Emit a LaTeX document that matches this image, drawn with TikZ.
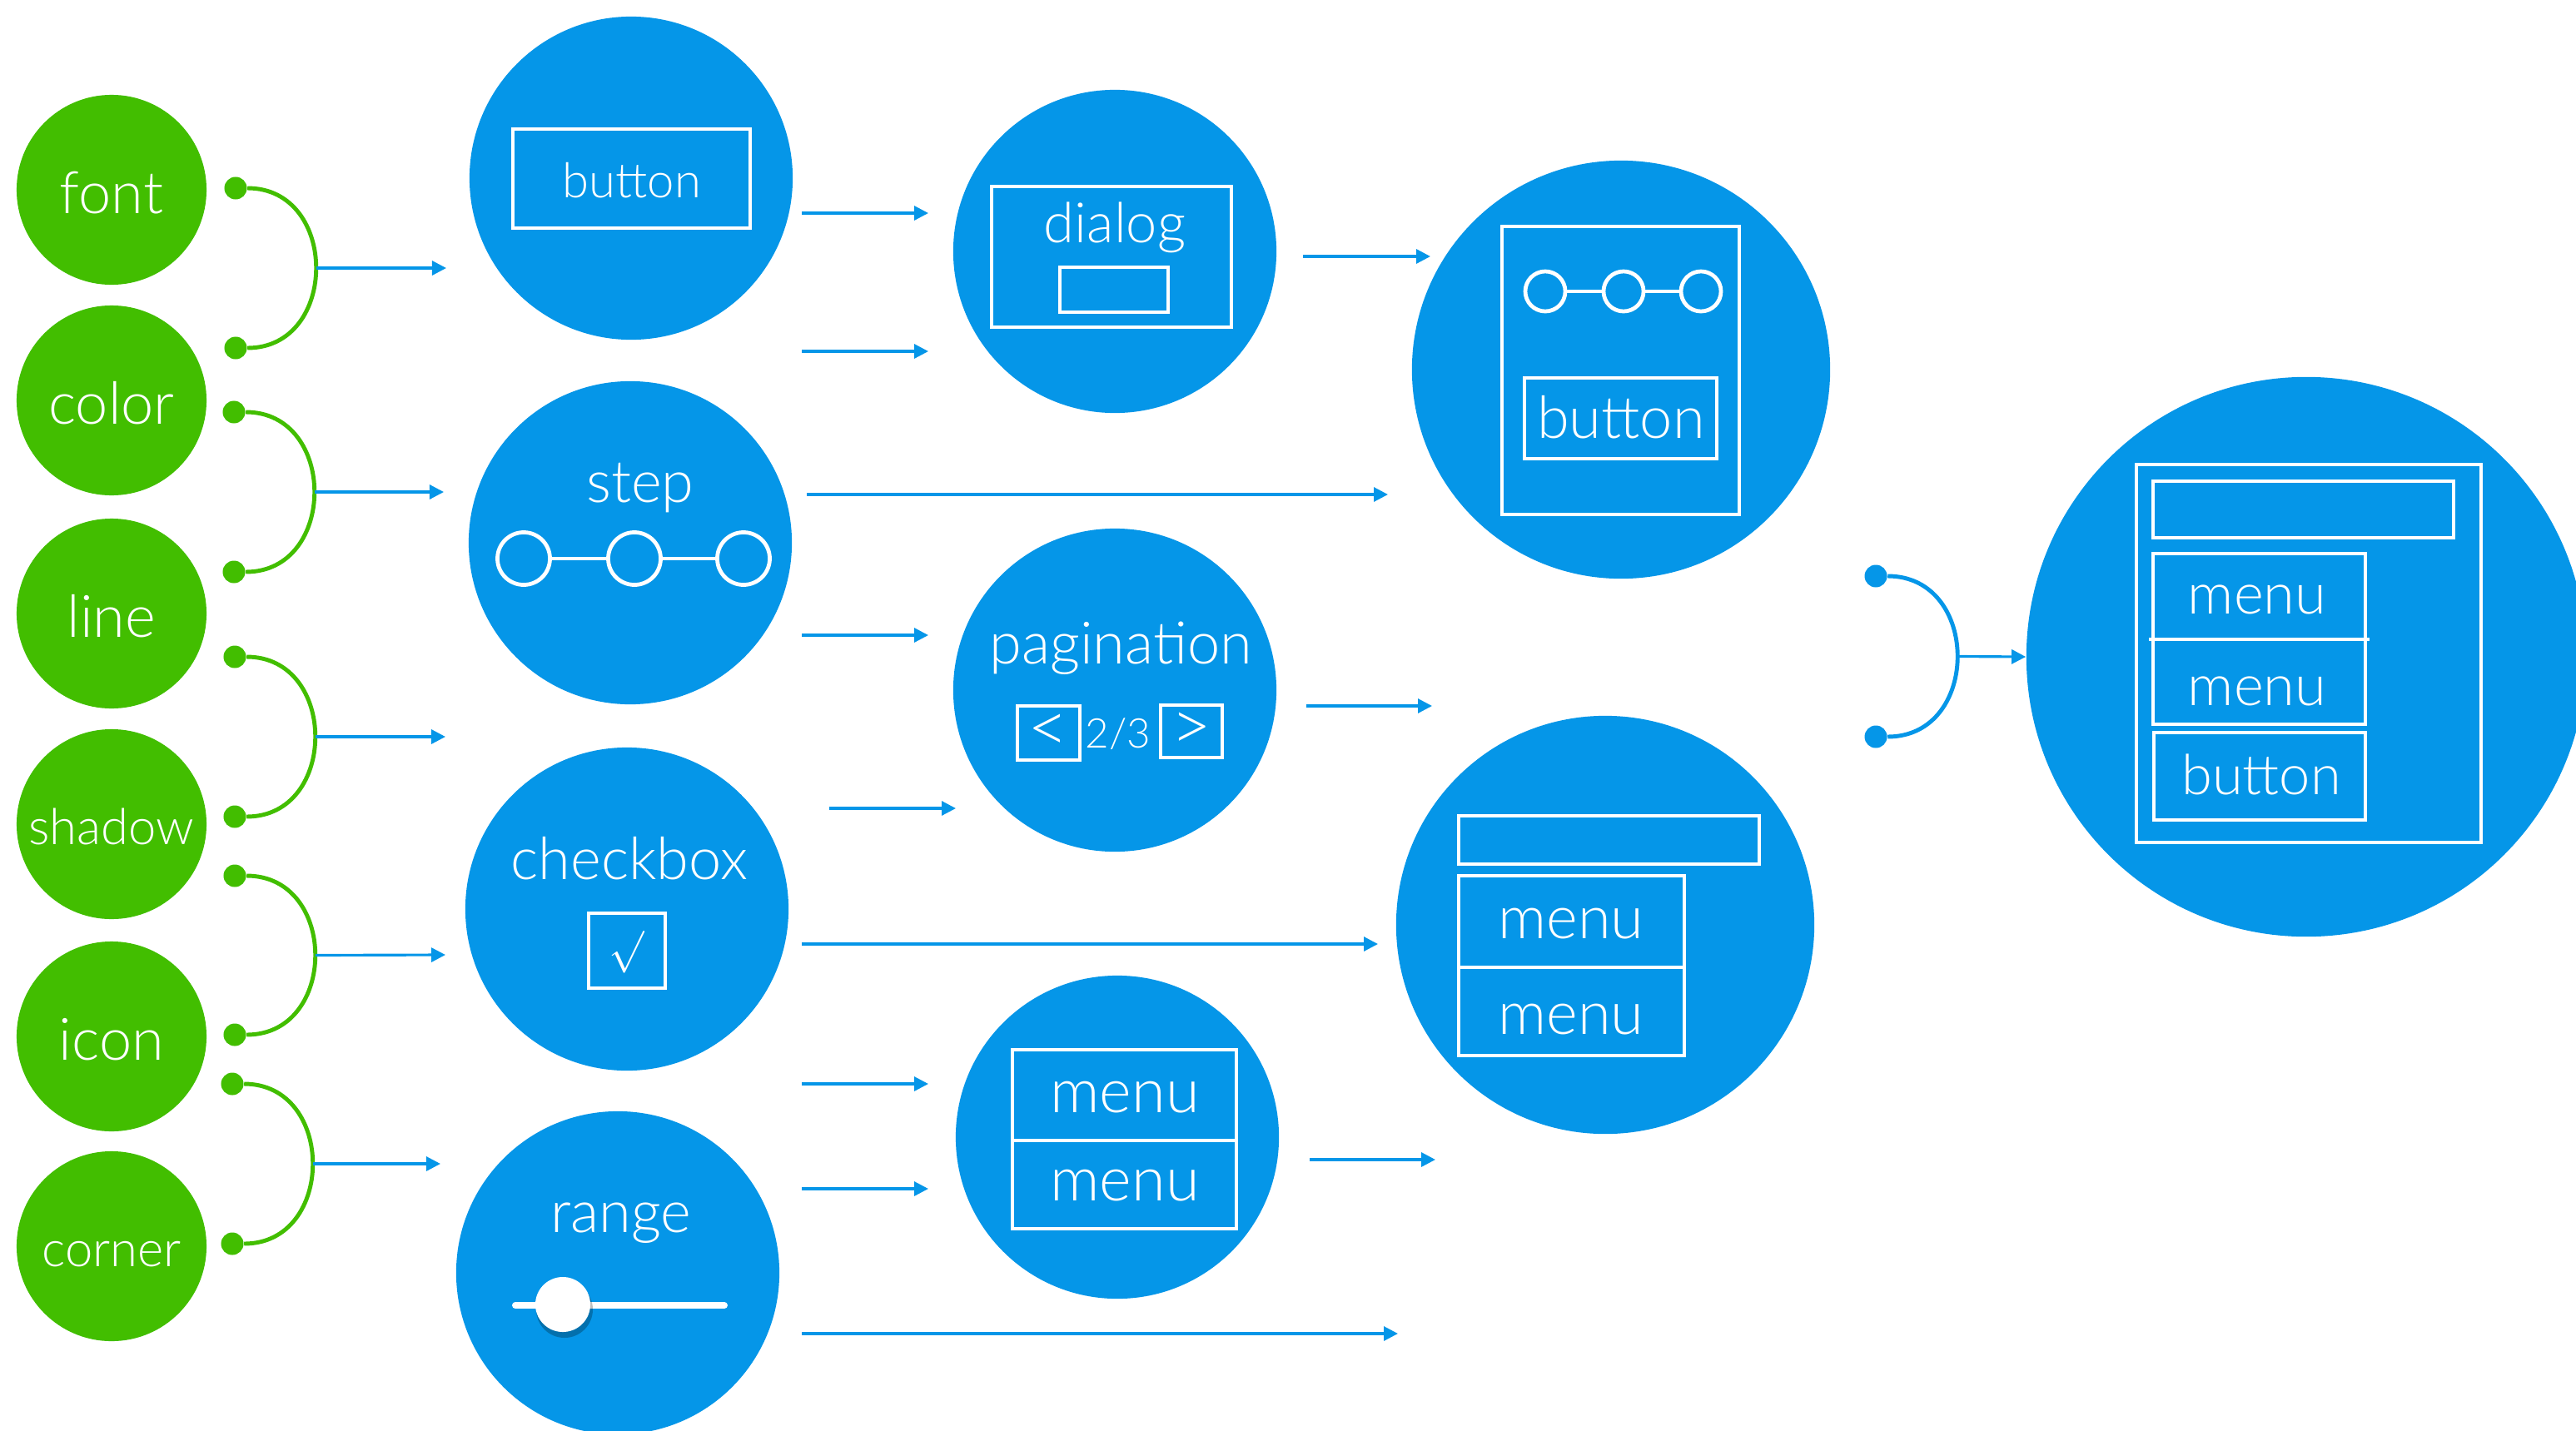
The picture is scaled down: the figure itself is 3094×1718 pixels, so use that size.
\documentclass[tikz,border=0pt]{standalone}
\usepackage{fontspec}
\IfFontExistsTF{Lato Light}{\setmainfont{Lato Light}}{%
  \IfFontExistsTF{Fira Sans Light}{\setmainfont{Fira Sans Light}}{\setmainfont{TeX Gyre Heros}}}
\usetikzlibrary{arrows.meta}
\definecolor{blu}{RGB}{5,150,232}
\definecolor{grn}{RGB}{66,190,0}
\newcommand\fsz[1]{\fontsize{#1}{#1}\selectfont}

\begin{document}
\begin{tikzpicture}[x=0.01cm,y=-0.01cm,
  gbub/.style={circle,fill=grn,inner sep=0pt,minimum size=2.28cm,text=white,
    font=\fsz{20pt},text height=0.56cm,text depth=0pt},
  bbub/.style={circle,fill=blu,inner sep=0pt},
  lbl/.style={text=white,anchor=base,inner sep=0pt,font=\fsz{20pt}},
  wline/.style={draw=white,line width=1.35pt},
  ring/.style={circle,draw=white,line width=1.35pt,inner sep=0pt},
  gdot/.style={circle,fill=grn,inner sep=0pt,minimum size=0.27cm},
  bdot/.style={circle,fill=blu,inner sep=0pt,minimum size=0.27cm},
  gjoin/.style={draw=grn,line width=1.4pt},
  bjoin/.style={draw=blu,line width=1.4pt},
  arr/.style={draw=blu,line width=0.9pt,-{Triangle[length=0.17cm,width=0.17cm]}}]

\useasboundingbox (0,0) rectangle (3094,1718);
\clip (0,0) rectangle (3094,1718);

% base properties
\node[gbub] (font) at (134,228) {font};
\node[gbub] (color) at (134,481) {color};
\node[gbub] (line) at (134,737) {line};
\node[gbub,font=\fsz{17pt},text height=0.48cm] (shadow) at (134,990) {shadow};
\node[gbub] (icon) at (134,1245) {icon};
\node[gbub,font=\fsz{17pt},text height=0.48cm] (corner) at (134,1497) {corner};

% green joins
\node[gdot] (g1a) at (283,226) {};
\node[gdot] (g1b) at (283,418) {};
\node[gdot] (g2a) at (281,495) {};
\node[gdot] (g2b) at (281,687) {};
\node[gdot] (g3a) at (282,789) {};
\node[gdot] (g3b) at (282,981) {};
\node[gdot] (g4a) at (282,1052) {};
\node[gdot] (g4b) at (282,1243) {};
\node[gdot] (g5a) at (279,1302) {};
\node[gdot] (g5b) at (279,1494) {};
\draw[gjoin] (g1a) to[out=0,in=0,distance=1.1cm] coordinate[pos=0.5] (j1) (g1b);
\draw[gjoin] (g2a) to[out=0,in=0,distance=1.1cm] coordinate[pos=0.5] (j2) (g2b);
\draw[gjoin] (g3a) to[out=0,in=0,distance=1.1cm] coordinate[pos=0.5] (j3) (g3b);
\draw[gjoin] (g4a) to[out=0,in=0,distance=1.1cm] coordinate[pos=0.5] (j4) (g4b);
\draw[gjoin] (g5a) to[out=0,in=0,distance=1.1cm] coordinate[pos=0.5] (j5) (g5b);
\coordinate (t1) at (536,322);
\coordinate (t2) at (533,591);
\coordinate (t3) at (535,885);
\coordinate (t4) at (535,1147);
\coordinate (t5) at (529,1398);
\draw[arr] (j1) -- (t1);
\draw[arr] (j2) -- (t2);
\draw[arr] (j3) -- (t3);
\draw[arr] (j4) -- (t4);
\draw[arr] (j5) -- (t5);

% components
\node[bbub,minimum size=3.88cm] (button) at (758,214) {};
\node[bbub,minimum size=3.88cm] (step) at (757,652) {};
\node[bbub,minimum size=3.88cm] (checkbox) at (753,1092) {};
\node[bbub,minimum size=3.88cm] (range) at (742,1529) {};

\draw[wline] (616,155) rectangle (901,274);
\node[lbl,font=\fsz{16.5pt}] (buttontxt) at (759,237) {button};

\node[lbl] (steptxt) at (769,603) {step};
\node[ring,minimum size=0.63cm] (st1) at (629,671) {};
\node[ring,minimum size=0.63cm] (st2) at (762,671) {};
\node[ring,minimum size=0.63cm] (st3) at (893,671) {};
\draw[wline] (st1) -- (st2);
\draw[wline] (st2) -- (st3);

\node[lbl] (checkboxtxt) at (756,1056) {checkbox};
\draw[wline] (707,1097) rectangle (799,1187);
\node[text=white,inner sep=0pt,font=\fsz{15pt}] (tick) at (753,1144) {$\surd$};

\node[lbl] (rangetxt) at (746,1480) {range};
\draw[white,line width=0.08cm,line cap=round] (619,1568) -- (870,1568);
\fill[black,opacity=0.25] (678,1573) circle[radius=34];
\node[circle,fill=white,inner sep=0pt,minimum size=0.66cm] (knob) at (676,1567) {};

% composites
\node[bbub,minimum size=3.88cm] (dialog) at (1339,302) {};
\node[bbub,minimum size=3.88cm] (pagination) at (1339,829) {};
\node[bbub,minimum size=3.88cm] (menu) at (1342,1366) {};

\draw[wline] (1191,224) rectangle (1479,393);
\node[lbl,font=\fsz{19pt}] (dialogtxt) at (1339,291) {dialog};
\draw[wline] (1273,321) rectangle (1403,375);

\node[lbl] (paginationtxt) at (1346,797) {pagination};
\draw[wline] (1222,848) rectangle (1297,913);
\draw[wline] (1394,847) rectangle (1468,910);
\node[text=white,inner sep=0pt,font=\fsz{24pt}] (prev) at (1259,881) {<};
\node[lbl,font=\fsz{14pt}] (pagenum) at (1343,898) {2/3};
\node[text=white,inner sep=0pt,font=\fsz{24pt}] (next) at (1431,879) {>};

\draw[wline] (1216,1261) rectangle (1485,1476);
\draw[wline] (1216,1370) -- (1485,1370);
\node[lbl,font=\fsz{21pt}] (menutxt1) at (1351,1336) {menu};
\node[lbl,font=\fsz{21pt}] (menutxt2) at (1351,1442) {menu};

\node[bbub,minimum size=5.02cm] (form) at (1947,444) {};
\node[bbub,minimum size=5.02cm] (menubar) at (1928,1111) {};

\draw[wline] (1804,272) rectangle (2089,618);
\node[ring,minimum size=0.48cm] (fs1) at (1856,350) {};
\node[ring,minimum size=0.48cm] (fs2) at (1950,350) {};
\node[ring,minimum size=0.48cm] (fs3) at (2043,350) {};
\draw[wline] (fs1) -- (fs2);
\draw[wline] (fs2) -- (fs3);
\draw[wline] (1831,454) rectangle (2062,551);
\node[lbl] (formbtn) at (1947,526) {button};

\draw[wline] (1752,980) rectangle (2113,1038);
\draw[wline] (1752,1052) rectangle (2023,1268);
\draw[wline] (1752,1162) -- (2023,1162);
\node[lbl,font=\fsz{20.5pt}] (barmenu1) at (1887,1127) {menu};
\node[lbl,font=\fsz{20.5pt}] (barmenu2) at (1887,1242) {menu};

% page
\node[bbub,minimum size=6.72cm] (page) at (2770,789) {};
\draw[wline] (2566,558) rectangle (2980,1012);
\draw[wline] (2586,578) rectangle (2947,646);
\draw[wline] (2586,665) rectangle (2841,870);
\draw[wline] (2581,768) -- (2846,768);
\draw[wline] (2587,880) rectangle (2841,985);
\node[lbl,font=\fsz{19.5pt}] (pagemenu1) at (2711,737) {menu};
\node[lbl,font=\fsz{19.5pt}] (pagemenu2) at (2711,847) {menu};
\node[lbl,font=\fsz{19pt}] (pagebtn) at (2716,954) {button};

\node[bdot] (b1) at (2253,692) {};
\node[bdot] (b2) at (2253,885) {};
\draw[bjoin] (b1) to[out=0,in=0,distance=1.12cm] coordinate[pos=0.5] (j6) (b2);
\draw[arr] (j6) -- (page.west);

% arrows between columns
\coordinate (a1s) at (963,256);  \coordinate (a1e) at (1115,256);
\coordinate (a2s) at (963,422);  \coordinate (a2e) at (1115,422);
\coordinate (a3s) at (969,594);  \coordinate (a3e) at (1667,594);
\coordinate (a4s) at (963,763);  \coordinate (a4e) at (1115,763);
\coordinate (a5s) at (996,971);  \coordinate (a5e) at (1148,971);
\coordinate (a6s) at (963,1134); \coordinate (a6e) at (1655,1134);
\coordinate (a7s) at (963,1302); \coordinate (a7e) at (1115,1302);
\coordinate (a8s) at (963,1428); \coordinate (a8e) at (1115,1428);
\coordinate (a9s) at (963,1602); \coordinate (a9e) at (1679,1602);
\draw[arr] (a1s) -- (a1e);
\draw[arr] (a2s) -- (a2e);
\draw[arr] (a3s) -- (a3e);
\draw[arr] (a4s) -- (a4e);
\draw[arr] (a5s) -- (a5e);
\draw[arr] (a6s) -- (a6e);
\draw[arr] (a7s) -- (a7e);
\draw[arr] (a8s) -- (a8e);
\draw[arr] (a9s) -- (a9e);

\coordinate (c1s) at (1565,308);  \coordinate (c1e) at (1718,308);
\coordinate (c2s) at (1569,848);  \coordinate (c2e) at (1720,848);
\coordinate (c3s) at (1573,1393); \coordinate (c3e) at (1724,1393);
\draw[arr] (c1s) -- (c1e);
\draw[arr] (c2s) -- (c2e);
\draw[arr] (c3s) -- (c3e);
\end{tikzpicture}
\end{document}
